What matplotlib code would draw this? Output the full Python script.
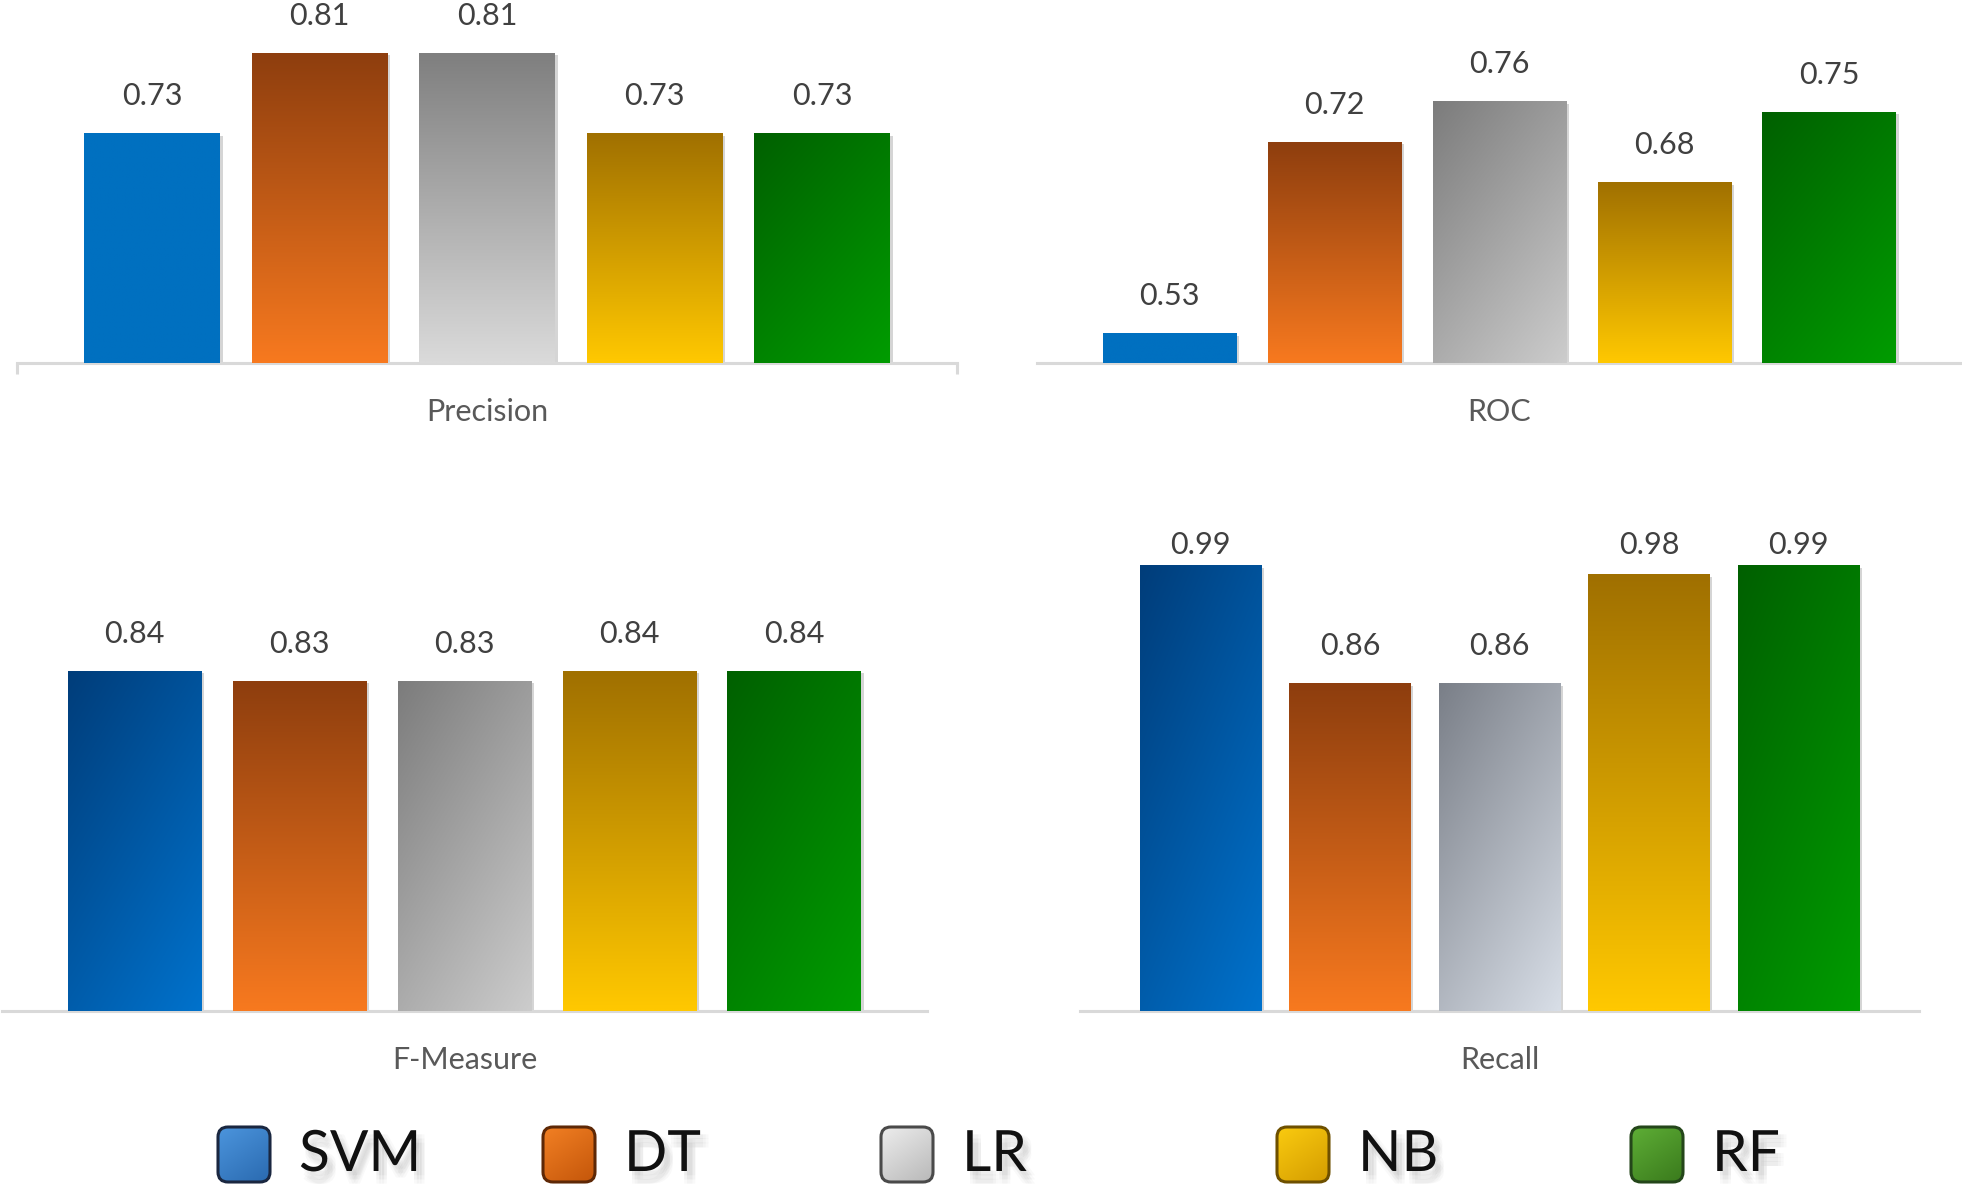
import matplotlib
matplotlib.use('Agg')
import matplotlib.pyplot as plt
import matplotlib.patheffects as pe
from matplotlib.patches import FancyBboxPatch
from matplotlib.colors import to_rgb
import numpy as np

plt.rcParams['font.family'] = ['Lato', 'DejaVu Sans']

models = ['SVM', 'DT', 'LR', 'NB', 'RF']
precision = [0.73, 0.81, 0.81, 0.73, 0.73]
roc = [0.53, 0.72, 0.76, 0.68, 0.75]
f_measure = [0.84, 0.83, 0.83, 0.84, 0.84]
recall = [0.99, 0.86, 0.86, 0.98, 0.99]
titles = ['Precision', 'ROC', 'F-Measure', 'Recall']

W, H = 1962, 1194

# bar fills per model: (top colour, bottom colour, direction)
fills_top = {
    'SVM': ('#0070C0', '#0070C0', 'flat'),
    'DT': ('#8E3E0E', '#F7791F', 'v'),
    'LR': ('#7F7F7F', '#DADADA', 'v'),
    'NB': ('#A07000', '#FFC800', 'v'),
    'RF': ('#006000', '#009C00', 'd'),
}
fills_roc = dict(fills_top, LR=('#7C7C7C', '#CCCCCC', 'd'))
fills_bottom = dict(fills_roc, SVM=('#003D7A', '#0072CC', 'd'))
fills_recall = dict(fills_bottom, LR=('#7A7F88', '#D8DEE7', 'd'))

# panel layout in pixels: left, right, baseline, px per unit, ymax
panels = [
    (precision, titles[0], fills_top, (17, 957, 363, 1001, 0.88), True),
    (roc, titles[1], fills_roc, (1037, 1962, 363, 1006, 0.88), False),
    (f_measure, titles[2], fills_bottom, (2, 927, 1011, 1001, 0.9), False),
    (recall, titles[3], fills_recall, (1080, 1919, 1011, 910, 1.031), False),
]


def gradient(c0, c1, mode, n=80):
    v = np.linspace(0, 1, n)[:, None]
    u = np.linspace(0, 1, n)[None, :]
    if mode == 'v':
        t = v + 0 * u
    elif mode == 'd':
        t = 0.4 * u + 0.6 * v
    else:
        t = 0 * u + 0 * v
    a, b = np.array(to_rgb(c0)), np.array(to_rgb(c1))
    return a + (b - a) * t[..., None]


fig = plt.figure(figsize=(W / 100, H / 100), dpi=100)

for values, title, fills, (x0, x1, base, k, ymax), end_ticks in panels:
    top = base - k * (ymax - 0.5)
    ax = fig.add_axes([x0 / W, (H - base) / H, (x1 - x0) / W, (base - top) / H])
    ax.set_xlim(-0.805, 4.805)
    ax.set_ylim(0.5, ymax)
    x = np.arange(len(models))
    bars = ax.bar(x, [v - 0.5 for v in values], bottom=0.5, width=0.81,
                  color='white', edgecolor='none', zorder=2,
                  path_effects=[pe.SimplePatchShadow(offset=(2, -2), shadow_rgbFace='#888888', alpha=0.35),
                                pe.Normal()])
    ax_top = ax.get_position().y1 * H
    for m, rect, v in zip(models, bars, values):
        c0, c1, mode = fills[m]
        bx, by = rect.get_x(), rect.get_y()
        im = ax.imshow(gradient(c0, c1, mode), extent=[bx, bx + rect.get_width(), by, by + rect.get_height()],
                       origin='upper', aspect='auto', interpolation='bilinear', zorder=3)
        im.set_clip_path(rect)
        # label sits above the bar, but is kept inside the plot area
        bar_top = ax.transData.transform((0, v))[1]
        lift = min(28, ax_top - 26 - bar_top)
        ax.annotate(f'{v:.2f}', xy=(rect.get_x() + rect.get_width() / 2, v), xytext=(0, lift * 0.72),
                    textcoords='offset points', ha='center', va='baseline',
                    fontsize=22, color='#404040')
    ax.set_xlim(-0.805, 4.805)
    ax.set_ylim(0.5, ymax)
    for s in ['top', 'left', 'right']:
        ax.spines[s].set_visible(False)
    ax.spines['bottom'].set_color('#D9D9D9')
    ax.spines['bottom'].set_linewidth(2.2)
    ax.set_xticks([])
    ax.set_yticks([])
    ax.patch.set_visible(False)
    if end_ticks:
        for xe in ax.get_xlim():
            ax.plot([xe, xe], [0.5, 0.5 - 11 / k], color='#D9D9D9', lw=2.2, clip_on=False,
                    solid_capstyle='butt')
    ax.annotate(title, xy=(0.5, 0), xycoords='axes fraction', xytext=(0, -35),
                textcoords='offset points', ha='center', va='center',
                fontsize=22, color='#595959')

# legend drawn in pixel coordinates
lg = fig.add_axes([0, 0, 1, 1])
lg.set_xlim(0, W)
lg.set_ylim(H, 0)
lg.axis('off')
lg.patch.set_visible(False)

legend_x = [244, 569, 907, 1303, 1657]
legend_fill = [('#4C95DD', '#2A6AB0'), ('#F28024', '#C4560A'), ('#EDEDED', '#B8B8B8'),
               ('#FACB10', '#D49C00'), ('#5EAE36', '#3A7A1C')]
legend_edge = ['#1A2740', '#5E2806', '#4A4A4A', '#6E5000', '#24461A']

# soft blurred shadow under the legend text
blur = [(dx, dy) for dx in (2, 4, 6) for dy in (-3, -6, -9)]
text_fx = [pe.SimplePatchShadow(offset=o, shadow_rgbFace='#7A7A7A', alpha=0.045) for o in blur]
text_fx.append(pe.Normal())

for name, cx, (c0, c1), ec in zip(models, legend_x, legend_fill, legend_edge):
    box = FancyBboxPatch((cx - 22, 1131), 44, 47, boxstyle='round,pad=4,rounding_size=10',
                         facecolor='none', edgecolor=ec, linewidth=2.2, zorder=2)
    lg.add_patch(box)
    im = lg.imshow(gradient(c0, c1, 'd'), extent=[cx - 26, cx + 26, 1182, 1127],
                   origin='upper', aspect='auto', interpolation='bilinear', zorder=1.9)
    im.set_clip_path(box)
    lg.text(cx + 55, 1171, name, fontsize=41, color='#111111', ha='left', va='baseline',
            path_effects=text_fx)
lg.set_xlim(0, W)
lg.set_ylim(H, 0)

fig.savefig('out.png', dpi=100)
